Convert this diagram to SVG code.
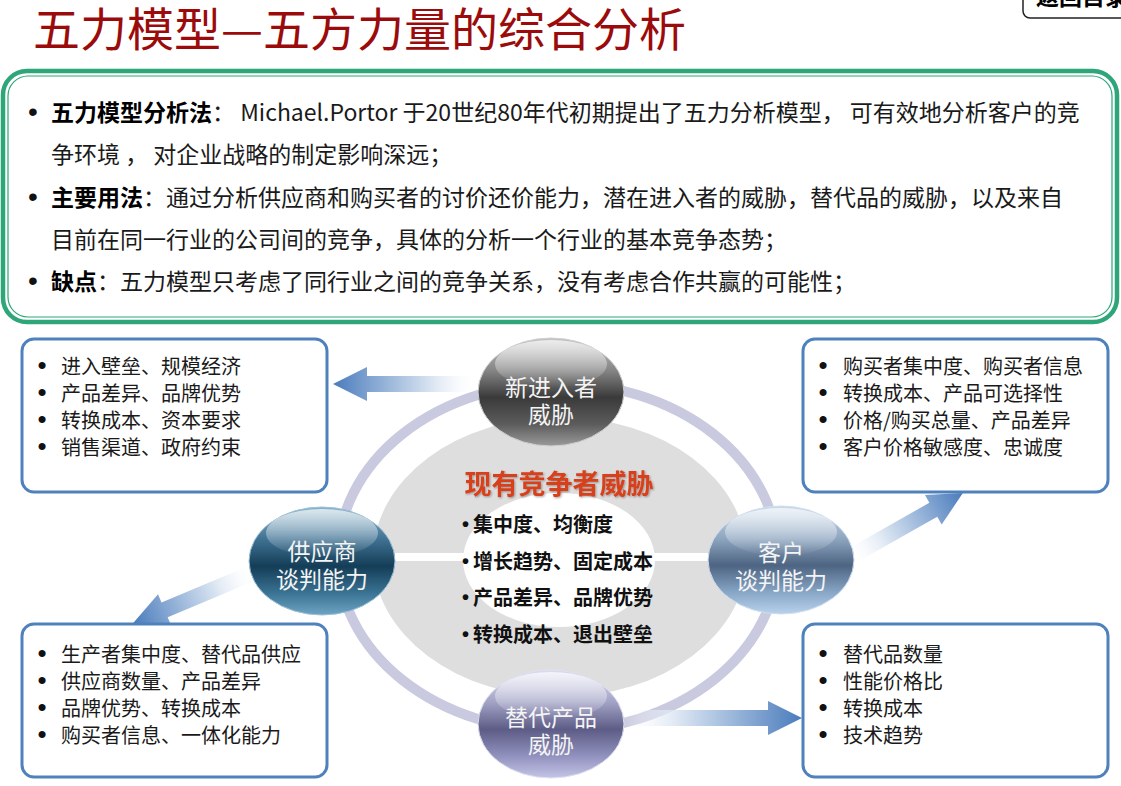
<svg xmlns="http://www.w3.org/2000/svg" width="1121" height="786" viewBox="0 0 1121 786">
<style>
.cjk{font-family:"Noto Sans CJK SC","Liberation Sans",sans-serif;}
.bul{font-family:"Liberation Sans","DejaVu Sans",sans-serif;}
.title{font-size:46px;fill:#9b0b0b;}
.intro{font-size:23px;fill:#1a1a1a;}
.b{font-weight:bold;fill:#000;}
.box{fill:#fff;stroke:#4f81bd;stroke-width:3;}
.boxtxt{font-size:20px;fill:#1a1a1a;}
.boxbul{font-size:26px;fill:#111;text-anchor:middle;}
.ntxt{font-size:23px;fill:#f4f4f4;text-anchor:middle;}
.ctr{font-size:20px;font-weight:bold;fill:#111;}
</style>
<defs>
<linearGradient id="arrowGrad" x1="0" y1="0" x2="1" y2="0">
<stop offset="0" stop-color="#ffffff" stop-opacity="0"/>
<stop offset="0.35" stop-color="#d5e1f0"/>
<stop offset="1" stop-color="#4a7cbc"/>
</linearGradient>
<linearGradient id="gGray" x1="0" y1="0" x2="0" y2="1">
<stop offset="0" stop-color="#c4c4c4"/>
<stop offset="0.3" stop-color="#858585"/>
<stop offset="0.55" stop-color="#3a3a3a"/>
<stop offset="0.8" stop-color="#5c5c5c"/>
<stop offset="1" stop-color="#9a9a9a"/>
</linearGradient>
<linearGradient id="gTeal" x1="0" y1="0" x2="0" y2="1">
<stop offset="0" stop-color="#8ab4cc"/>
<stop offset="0.3" stop-color="#3f7192"/>
<stop offset="0.55" stop-color="#143d57"/>
<stop offset="0.8" stop-color="#3b7494"/>
<stop offset="1" stop-color="#6ea3c3"/>
</linearGradient>
<linearGradient id="gBlue" x1="0" y1="0" x2="0" y2="1">
<stop offset="0" stop-color="#cbdaea"/>
<stop offset="0.3" stop-color="#8ea6c0"/>
<stop offset="0.55" stop-color="#4d6482"/>
<stop offset="0.8" stop-color="#88a6c6"/>
<stop offset="1" stop-color="#b8d2ec"/>
</linearGradient>
<linearGradient id="gLav" x1="0" y1="0" x2="0" y2="1">
<stop offset="0" stop-color="#dcdcf0"/>
<stop offset="0.3" stop-color="#a2a2c6"/>
<stop offset="0.55" stop-color="#5c5c86"/>
<stop offset="0.8" stop-color="#9292bf"/>
<stop offset="1" stop-color="#c4c4e6"/>
</linearGradient>
<linearGradient id="gHi" x1="0" y1="0" x2="0" y2="1">
<stop offset="0" stop-color="#ffffff" stop-opacity="0.7"/>
<stop offset="1" stop-color="#ffffff" stop-opacity="0"/>
</linearGradient>
<filter id="shadow" x="-10%" y="-30%" width="120%" height="160%">
<feDropShadow dx="1" dy="1" stdDeviation="1" flood-color="#000" flood-opacity="0.35"/>
</filter>
<path id="arrowShape" d="M0,-8 L98,-8 L98,-17 L132,0 L98,17 L98,8 L0,8 Z"/>
</defs>

<rect width="1121" height="786" fill="#ffffff"/>

<g id="title">
<text class="cjk title" x="33" y="46" textLength="653" lengthAdjust="spacingAndGlyphs">五力模型—五方力量的综合分析</text>
</g>

<g id="back-button">
<rect x="1023" y="-12" width="120" height="30" rx="7" fill="#fff" stroke="#222" stroke-width="1.5"/>
<text class="cjk" x="1036" y="5" font-size="23" font-weight="bold" fill="#000">返回目录</text>
</g>

<g id="intro-box">
<rect x="3" y="71" width="1114" height="251" rx="24" fill="#fff" stroke="#2fa67a" stroke-width="4.5"/>
<rect x="8" y="76" width="1104" height="241" rx="20" fill="none" stroke="#2fa67a" stroke-width="1.2"/>
<g class="bul" font-size="28" fill="#111" text-anchor="middle">
<text x="33" y="121">•</text>
<text x="33" y="206">•</text>
<text x="33" y="290">•</text>
</g>
<g class="cjk intro">
<text x="51" y="121"><tspan class="b">五力模型分析法</tspan>： Michael.Portor 于20世纪80年代初期提出了五力分析模型， 可有效地分析客户的竞</text>
<text x="51" y="163">争环境 ， 对企业战略的制定影响深远；</text>
<text x="51" y="206"><tspan class="b">主要用法</tspan>：通过分析供应商和购买者的讨价还价能力，潜在进入者的威胁，替代品的威胁，以及来自</text>
<text x="51" y="248">目前在同一行业的公司间的竞争，具体的分析一个行业的基本竞争态势；</text>
<text x="51" y="290"><tspan class="b">缺点</tspan>：五力模型只考虑了同行业之间的竞争关系，没有考虑合作共赢的可能性；</text>
</g>
</g>

<g id="core">
<ellipse cx="558" cy="557" rx="220" ry="174" fill="none" stroke="#c9c9df" stroke-width="10"/>
<ellipse cx="560" cy="557" rx="187" ry="140" fill="#dedede"/>
<ellipse cx="559" cy="560" rx="96" ry="67" fill="#ffffff"/>
<rect x="395" y="553" width="315" height="8" fill="#ffffff"/>
</g>

<g id="connectors">
<path d="M0,-8 L113,-8 L113,-17 L147,0 L113,17 L113,8 L0,8 Z" transform="translate(480,384) rotate(180)" fill="url(#arrowGrad)"/>
<path d="M0,-8 L148,-8 L148,-17 L182,0 L148,17 L148,8 L0,8 Z" transform="translate(620,718)" fill="url(#arrowGrad)"/>
<use href="#arrowShape" transform="translate(848,558) rotate(-29.5)" fill="url(#arrowGrad)"/>
<use href="#arrowShape" transform="translate(255,572) rotate(157.3)" fill="url(#arrowGrad)"/>
</g>

<g id="center-text">
<text class="cjk" x="559" y="494" font-size="27" font-weight="bold" fill="#d8401c" text-anchor="middle" filter="url(#shadow)">现有竞争者威胁</text>
<g class="bul" font-size="20" font-weight="bold" fill="#111">
<text x="462" y="531">•</text>
<text x="462" y="568">•</text>
<text x="462" y="604">•</text>
<text x="462" y="641">•</text>
</g>
<text class="cjk ctr" x="473" y="532">集中度、均衡度</text>
<text class="cjk ctr" x="473" y="569">增长趋势、固定成本</text>
<text class="cjk ctr" x="473" y="605">产品差异、品牌优势</text>
<text class="cjk ctr" x="473" y="642">转换成本、退出壁垒</text>
</g>

<g id="node-new-entrants">
<ellipse cx="551" cy="392" rx="73" ry="54" fill="url(#gGray)" stroke="#d0d0d0" stroke-width="1"/>
<ellipse cx="551" cy="364" rx="56" ry="24" fill="url(#gHi)"/>
<text class="cjk ntxt" x="551" y="396">新进入者<tspan x="551" dy="27">威胁</tspan></text>
</g>

<g id="node-suppliers">
<ellipse cx="322" cy="561" rx="73" ry="54" fill="url(#gTeal)" stroke="#9cc0d6" stroke-width="1"/>
<ellipse cx="322" cy="533" rx="56" ry="24" fill="url(#gHi)"/>
<text class="cjk ntxt" x="322" y="560">供应商<tspan x="322" dy="28">谈判能力</tspan></text>
</g>

<g id="node-customers">
<ellipse cx="781" cy="560" rx="73" ry="54" fill="url(#gBlue)" stroke="#d0def0" stroke-width="1"/>
<ellipse cx="781" cy="532" rx="56" ry="24" fill="url(#gHi)"/>
<text class="cjk ntxt" x="781" y="561">客户<tspan x="781" dy="28">谈判能力</tspan></text>
</g>

<g id="node-substitutes">
<ellipse cx="551" cy="724" rx="73" ry="54" fill="url(#gLav)" stroke="#e0e0f2" stroke-width="1"/>
<ellipse cx="551" cy="696" rx="56" ry="24" fill="url(#gHi)"/>
<text class="cjk ntxt" x="551" y="726">替代产品<tspan x="551" dy="27">威胁</tspan></text>
</g>

<g id="box-entrants">
<rect class="box" x="22" y="339" width="305" height="153" rx="12"/>
<g class="bul boxbul">
<text x="42" y="374">•</text><text x="42" y="401">•</text><text x="42" y="428">•</text><text x="42" y="455">•</text>
</g>
<g class="cjk boxtxt">
<text x="61" y="374">进入壁垒、规模经济</text>
<text x="61" y="401">产品差异、品牌优势</text>
<text x="61" y="428">转换成本、资本要求</text>
<text x="61" y="455">销售渠道、政府约束</text>
</g>
</g>

<g id="box-suppliers">
<rect class="box" x="22" y="624" width="305" height="153" rx="12"/>
<g class="bul boxbul">
<text x="42" y="662">•</text><text x="42" y="689">•</text><text x="42" y="716">•</text><text x="42" y="743">•</text>
</g>
<g class="cjk boxtxt">
<text x="61" y="662">生产者集中度、替代品供应</text>
<text x="61" y="689">供应商数量、产品差异</text>
<text x="61" y="716">品牌优势、转换成本</text>
<text x="61" y="743">购买者信息、一体化能力</text>
</g>
</g>

<g id="box-customers">
<rect class="box" x="803" y="339" width="305" height="153" rx="12"/>
<g class="bul boxbul">
<text x="823" y="374">•</text><text x="823" y="401">•</text><text x="823" y="428">•</text><text x="823" y="455">•</text>
</g>
<g class="cjk boxtxt">
<text x="843" y="374">购买者集中度、购买者信息</text>
<text x="843" y="401">转换成本、产品可选择性</text>
<text x="843" y="428">价格/购买总量、产品差异</text>
<text x="843" y="455">客户价格敏感度、忠诚度</text>
</g>
</g>

<g id="box-substitutes">
<rect class="box" x="803" y="624" width="305" height="153" rx="12"/>
<g class="bul boxbul">
<text x="823" y="662">•</text><text x="823" y="689">•</text><text x="823" y="716">•</text><text x="823" y="743">•</text>
</g>
<g class="cjk boxtxt">
<text x="843" y="662">替代品数量</text>
<text x="843" y="689">性能价格比</text>
<text x="843" y="716">转换成本</text>
<text x="843" y="743">技术趋势</text>
</g>
</g>
</svg>
